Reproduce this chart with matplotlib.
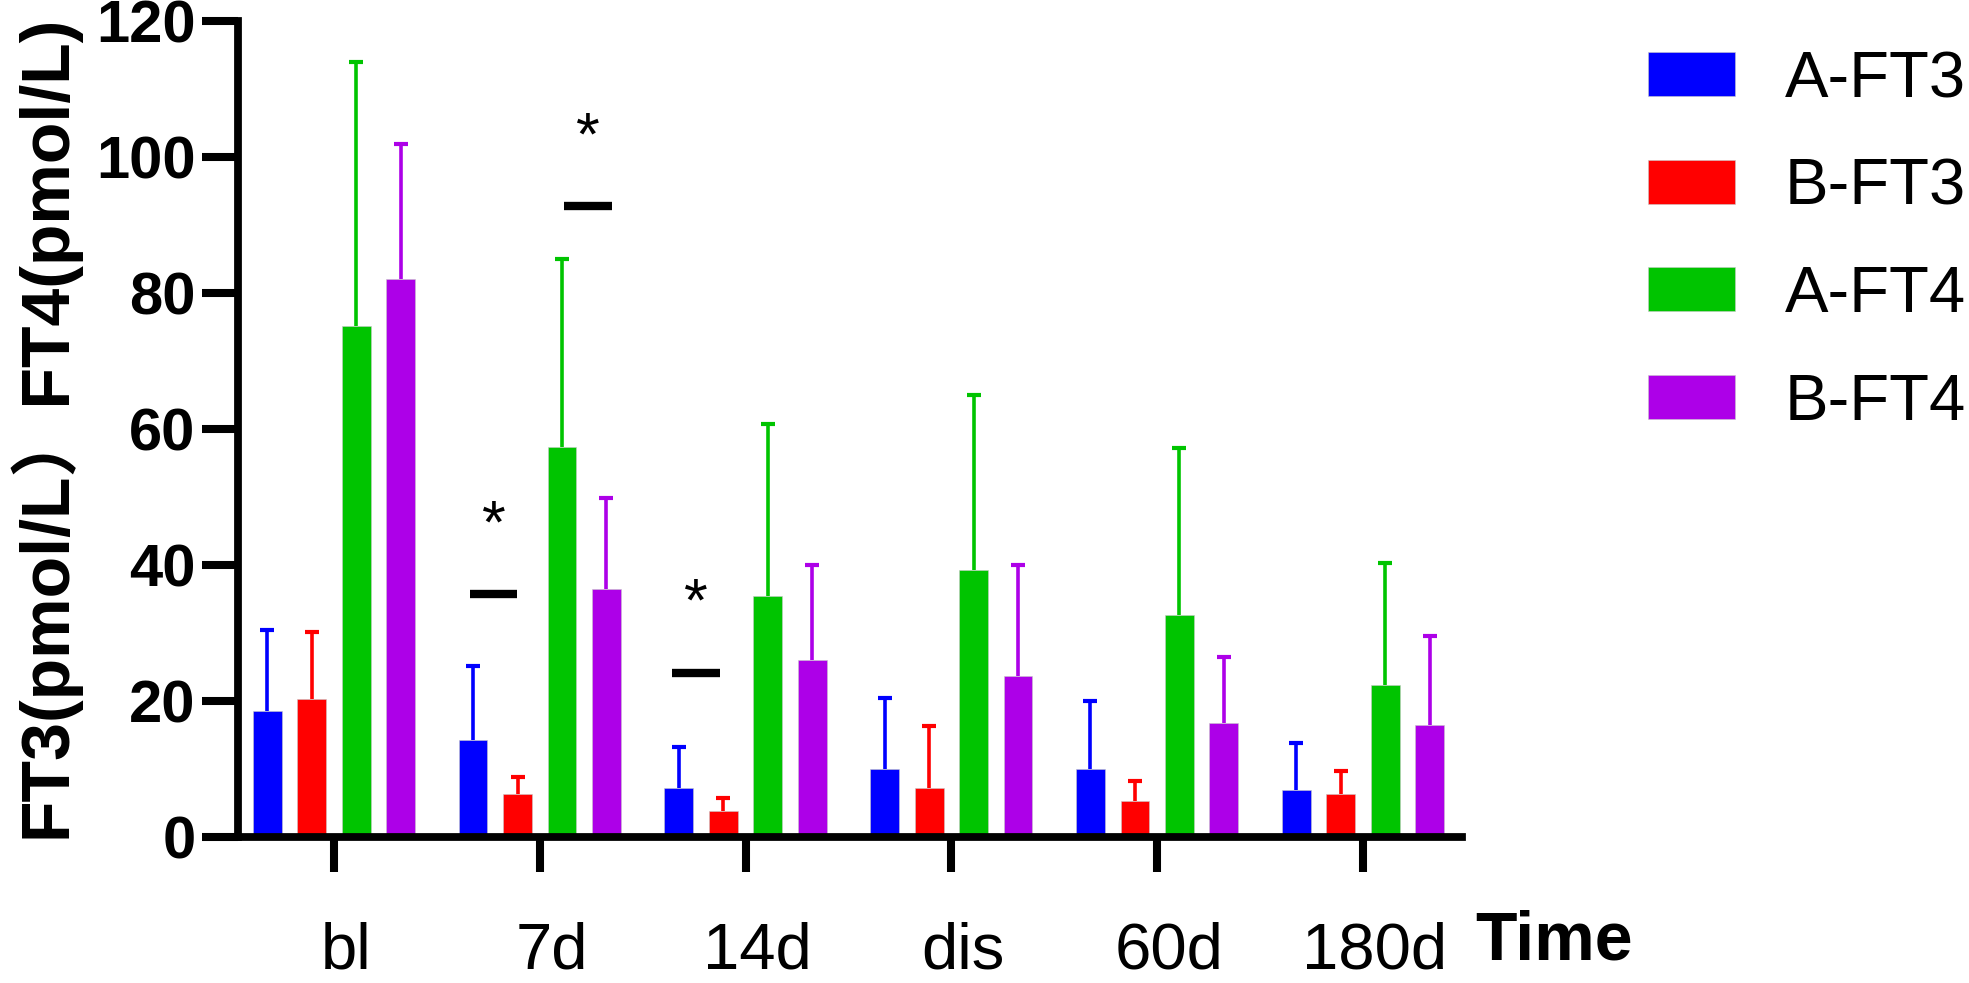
import numpy as np
import matplotlib
matplotlib.use('Agg')
import matplotlib.pyplot as plt
import matplotlib.transforms as mtransforms
from matplotlib.patches import Patch

plt.rcParams['font.family'] = ['Liberation Sans', 'Noto Sans CJK SC', 'DejaVu Sans']

times = ['bl', '7d', '14d', 'dis', '60d', '180d']
series = ['A-FT3', 'B-FT3', 'A-FT4', 'B-FT4']
colors = ['#0000FF', '#FF0000', '#00C400', '#AD00E8']

a_ft3 = [18.6, 14.3, 7.2, 10.0, 10.0, 6.9]
b_ft3 = [20.3, 6.4, 3.9, 7.2, 5.3, 6.4]
a_ft4 = [75.1, 57.4, 35.4, 39.2, 32.7, 22.3]
b_ft4 = [82.1, 36.5, 26.1, 23.7, 16.7, 16.5]

a_ft3_sd = [11.9, 10.9, 6.1, 10.4, 10.0, 6.9]
b_ft3_sd = [9.9, 2.5, 1.8, 9.1, 3.0, 3.3]
a_ft4_sd = [38.9, 27.6, 25.3, 25.8, 24.5, 18.0]
b_ft4_sd = [19.8, 13.4, 13.9, 16.3, 9.8, 13.1]

# significance marks: (time index, offset of pair centre, bar y, star y)
sig_marks = [(1, -0.225, 35.8, 45.6), (1, 0.235, 92.8, 102.6), (2, -0.24, 24.1, 34.1)]

means = [a_ft3, b_ft3, a_ft4, b_ft4]
sds = [a_ft3_sd, b_ft3_sd, a_ft4_sd, b_ft4_sd]

fig = plt.figure(figsize=(19.69, 9.83), dpi=100)
ax = fig.add_axes([0.1211, 0.1485, 0.6214, 0.8301])

x = np.arange(len(times))
step = 0.216
width = 0.14
for k in range(4):
    pos = x + (k - 1.5) * step
    top = np.array(means[k]) + np.array(sds[k])
    ax.bar(pos, means[k], width, color=colors[k], edgecolor='#c8c8c8', linewidth=0.4, zorder=2)
    # upward-only error bars with a cap at the top
    ax.vlines(pos, means[k], top, color=colors[k], linewidth=2.6, zorder=1)
    ax.plot(pos, top, linestyle='none', marker='_', markersize=9.5, mew=3.0, color=colors[k], zorder=1)

for i, off, ly, sy in sig_marks:
    ax.hlines(ly, i + off - 0.115, i + off + 0.115, color='black', linewidth=6)
    ax.text(i + off, sy, '*', ha='center', va='center', fontsize=44, color='black')

ax.set_xlim(-0.464, 5.481)
ax.set_ylim(0, 120)
ax.set_yticks(np.arange(0, 121, 20))
ax.set_xticks(x)
ax.set_xticklabels(times, fontsize=47)
for lab in ax.get_yticklabels():
    lab.set_fontsize(43)
    lab.set_fontweight('bold')

for s in ['top', 'right']:
    ax.spines[s].set_visible(False)
for s in ['left', 'bottom']:
    ax.spines[s].set_linewidth(5.6)
ax.tick_params(axis='both', width=5.8, color='black')
ax.tick_params(axis='y', length=26, pad=5)
ax.tick_params(axis='x', length=25, pad=36)

# tick labels in the source sit a little right of the ticks
for lab in ax.get_xticklabels():
    lab.set_transform(lab.get_transform() + mtransforms.ScaledTranslation(0.12, 0, fig.dpi_scale_trans))

fig.text(7 / 1969, 0.1475, 'FT3(pmol/L）FT4(pmol/L)', rotation=90, ha='left', va='bottom',
         fontsize=49, fontweight='bold')
fig.text(1475 / 1969, 0.0234, 'Time', ha='left', va='baseline', fontsize=49, fontweight='bold')

handles = [Patch(facecolor=c, edgecolor='#c8c8c8', linewidth=0.4) for c in colors]
fig.legend(handles, series, loc='upper left', bbox_to_anchor=(1648 / 1969, 1 - 50 / 983),
           frameon=False, fontsize=47, handlelength=1.33, handleheight=0.66,
           handletextpad=0.77, labelspacing=0.73, borderpad=0, borderaxespad=0)

fig.savefig('out.png', dpi=100)
